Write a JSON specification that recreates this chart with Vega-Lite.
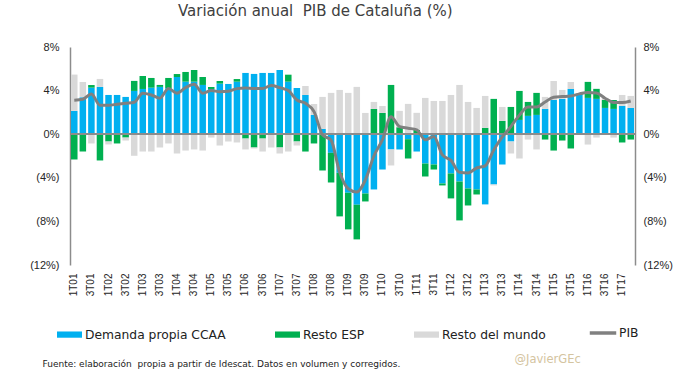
{
  "$schema": "https://vega.github.io/schema/vega-lite/v6.json",
  "width": 565,
  "height": 218,
  "autosize": "none",
  "padding": {"left": 70, "top": 47, "right": 45, "bottom": 114},
  "background": "white",
  "title": {"text": "Variación anual\u00a0 PIB de Cataluña (%)", "anchor": "start", "frame": "group", "dx": 108, "offset": 22, "font": "DejaVu Sans", "fontSize": 15, "fontWeight": "normal", "color": "#404040"},
  "config": {"view": {"stroke": null}, "font": "DejaVu Sans"},
  "data": {"values": [
    {"t": "1T01", "Demanda propia CCAA": 2.14, "Resto ESP": -2.32, "Resto del mundo": 3.33, "PIB": 3.11},
    {"t": "2T01", "Demanda propia CCAA": 3.39, "Resto ESP": -1.59, "Resto del mundo": 1.40, "PIB": 3.2},
    {"t": "3T01", "Demanda propia CCAA": 4.27, "Resto ESP": 0.24, "Resto del mundo": -0.85, "PIB": 3.69},
    {"t": "4T01", "Demanda propia CCAA": 4.34, "Resto ESP": -2.41, "Resto del mundo": 0.73, "PIB": 2.66},
    {"t": "1T02", "Demanda propia CCAA": 3.60, "Resto ESP": -0.67, "Resto del mundo": -0.27, "PIB": 2.66},
    {"t": "2T02", "Demanda propia CCAA": 3.60, "Resto ESP": -0.85, "Resto del mundo": 0, "PIB": 2.75},
    {"t": "3T02", "Demanda propia CCAA": 3.42, "Resto ESP": -0.31, "Resto del mundo": -0.27, "PIB": 2.84},
    {"t": "4T02", "Demanda propia CCAA": 3.97, "Resto ESP": 0.92, "Resto del mundo": -1.98, "PIB": 2.93},
    {"t": "1T03", "Demanda propia CCAA": 4.15, "Resto ESP": 1.19, "Resto del mundo": -1.59, "PIB": 3.76},
    {"t": "2T03", "Demanda propia CCAA": 4.27, "Resto ESP": 0.89, "Resto del mundo": -1.59, "PIB": 3.6},
    {"t": "3T03", "Demanda propia CCAA": 4.34, "Resto ESP": 0.18, "Resto del mundo": -1.22, "PIB": 3.3},
    {"t": "4T03", "Demanda propia CCAA": 4.24, "Resto ESP": 0.92, "Resto del mundo": -0.85, "PIB": 4.2},
    {"t": "1T04", "Demanda propia CCAA": 5.25, "Resto ESP": 0.27, "Resto del mundo": -1.77, "PIB": 3.76},
    {"t": "2T04", "Demanda propia CCAA": 4.82, "Resto ESP": 0.89, "Resto del mundo": -1.5, "PIB": 4.27},
    {"t": "3T04", "Demanda propia CCAA": 4.82, "Resto ESP": 1.07, "Resto del mundo": -1.40, "PIB": 4.58},
    {"t": "4T04", "Demanda propia CCAA": 4.52, "Resto ESP": 0.73, "Resto del mundo": -1.5, "PIB": 3.76},
    {"t": "1T05", "Demanda propia CCAA": 4.15, "Resto ESP": 0.18, "Resto del mundo": -0.31, "PIB": 4.0},
    {"t": "2T05", "Demanda propia CCAA": 4.64, "Resto ESP": 0.24, "Resto del mundo": -1.04, "PIB": 3.9},
    {"t": "3T05", "Demanda propia CCAA": 4.61, "Resto ESP": 0, "Resto del mundo": -0.67, "PIB": 3.94},
    {"t": "4T05", "Demanda propia CCAA": 4.82, "Resto ESP": 0.24, "Resto del mundo": -0.76, "PIB": 4.18},
    {"t": "1T06", "Demanda propia CCAA": 5.62, "Resto ESP": -0.40, "Resto del mundo": -1.0, "PIB": 4.24},
    {"t": "2T06", "Demanda propia CCAA": 5.53, "Resto ESP": -1.22, "Resto del mundo": -0.09, "PIB": 4.2},
    {"t": "3T06", "Demanda propia CCAA": 5.62, "Resto ESP": -0.40, "Resto del mundo": -1.19, "PIB": 4.2},
    {"t": "4T06", "Demanda propia CCAA": 5.62, "Resto ESP": 0, "Resto del mundo": -1.22, "PIB": 4.46},
    {"t": "1T07", "Demanda propia CCAA": 5.89, "Resto ESP": -1.22, "Resto del mundo": -0.55, "PIB": 4.27},
    {"t": "2T07", "Demanda propia CCAA": 4.82, "Resto ESP": 0.64, "Resto del mundo": -1.59, "PIB": 4.0},
    {"t": "3T07", "Demanda propia CCAA": 4.24, "Resto ESP": -0.67, "Resto del mundo": -0.37, "PIB": 3.14},
    {"t": "4T07", "Demanda propia CCAA": 3.60, "Resto ESP": -1.59, "Resto del mundo": 0.82, "PIB": 2.84},
    {"t": "1T08", "Demanda propia CCAA": 1.77, "Resto ESP": -0.85, "Resto del mundo": 1.0, "PIB": 2.08},
    {"t": "2T08", "Demanda propia CCAA": 0.49, "Resto ESP": -3.33, "Resto del mundo": 2.93, "PIB": -0.06},
    {"t": "3T08", "Demanda propia CCAA": -1.71, "Resto ESP": -2.72, "Resto del mundo": 3.79, "PIB": -0.55},
    {"t": "4T08", "Demanda propia CCAA": -3.54, "Resto ESP": -4.0, "Resto del mundo": 4.06, "PIB": -3.5},
    {"t": "1T09", "Demanda propia CCAA": -5.37, "Resto ESP": -3.36, "Resto del mundo": 3.79, "PIB": -5.0},
    {"t": "2T09", "Demanda propia CCAA": -6.47, "Resto ESP": -3.18, "Resto del mundo": 4.34, "PIB": -5.3},
    {"t": "3T09", "Demanda propia CCAA": -5.44, "Resto ESP": -0.73, "Resto del mundo": 1.95, "PIB": -4.2},
    {"t": "4T09", "Demanda propia CCAA": -5.07, "Resto ESP": 2.32, "Resto del mundo": 0.64, "PIB": -2.0},
    {"t": "1T10", "Demanda propia CCAA": -3.24, "Resto ESP": 1.95, "Resto del mundo": 0.64, "PIB": -0.5},
    {"t": "2T10", "Demanda propia CCAA": -1.40, "Resto ESP": 4.52, "Resto del mundo": -1.47, "PIB": 1.6},
    {"t": "3T10", "Demanda propia CCAA": -1.40, "Resto ESP": 0.64, "Resto del mundo": 1.5, "PIB": 0.7},
    {"t": "4T10", "Demanda propia CCAA": -0.46, "Resto ESP": -1.77, "Resto del mundo": 2.78, "PIB": 0.55},
    {"t": "1T11", "Demanda propia CCAA": -1.59, "Resto ESP": 0.4, "Resto del mundo": 1.56, "PIB": 0.4},
    {"t": "2T11", "Demanda propia CCAA": -2.69, "Resto ESP": -1.19, "Resto del mundo": 3.33, "PIB": -0.52},
    {"t": "3T11", "Demanda propia CCAA": -2.78, "Resto ESP": -0.46, "Resto del mundo": 3.05, "PIB": -0.2},
    {"t": "4T11", "Demanda propia CCAA": -4.52, "Resto ESP": -0.18, "Resto del mundo": 3.05, "PIB": -1.9},
    {"t": "1T12", "Demanda propia CCAA": -3.6, "Resto ESP": -2.29, "Resto del mundo": 3.6, "PIB": -2.4},
    {"t": "2T12", "Demanda propia CCAA": -4.34, "Resto ESP": -3.57, "Resto del mundo": 4.52, "PIB": -3.5},
    {"t": "3T12", "Demanda propia CCAA": -4.98, "Resto ESP": -1.56, "Resto del mundo": 2.96, "PIB": -3.55},
    {"t": "4T12", "Demanda propia CCAA": -5.07, "Resto ESP": -0.46, "Resto del mundo": 2.41, "PIB": -3.1},
    {"t": "1T13", "Demanda propia CCAA": -6.44, "Resto ESP": 0.58, "Resto del mundo": 2.93, "PIB": -2.9},
    {"t": "2T13", "Demanda propia CCAA": -4.61, "Resto ESP": 3.24, "Resto del mundo": -0.09, "PIB": -1.45},
    {"t": "3T13", "Demanda propia CCAA": -2.78, "Resto ESP": 1.22, "Resto del mundo": 1.28, "PIB": -0.25},
    {"t": "4T13", "Demanda propia CCAA": -0.67, "Resto ESP": 2.5, "Resto del mundo": -1.1, "PIB": 0.7},
    {"t": "1T14", "Demanda propia CCAA": 1.31, "Resto ESP": 2.66, "Resto del mundo": -2.23, "PIB": 1.75},
    {"t": "2T14", "Demanda propia CCAA": 1.68, "Resto ESP": 1.28, "Resto del mundo": -0.49, "PIB": 2.5},
    {"t": "3T14", "Demanda propia CCAA": 1.77, "Resto ESP": 2.02, "Resto del mundo": -1.40, "PIB": 2.5},
    {"t": "4T14", "Demanda propia CCAA": 2.32, "Resto ESP": -0.49, "Resto del mundo": 1.1, "PIB": 2.95},
    {"t": "1T15", "Demanda propia CCAA": 3.14, "Resto ESP": -1.5, "Resto del mundo": 1.74, "PIB": 3.4},
    {"t": "2T15", "Demanda propia CCAA": 3.24, "Resto ESP": -0.58, "Resto del mundo": 0.82, "PIB": 3.45},
    {"t": "3T15", "Demanda propia CCAA": 4.15, "Resto ESP": -1.31, "Resto del mundo": 0.64, "PIB": 3.5},
    {"t": "4T15", "Demanda propia CCAA": 3.6, "Resto ESP": 0.1, "Resto del mundo": 0, "PIB": 3.7},
    {"t": "1T16", "Demanda propia CCAA": 3.33, "Resto ESP": 1.47, "Resto del mundo": -0.95, "PIB": 3.82},
    {"t": "2T16", "Demanda propia CCAA": 3.24, "Resto ESP": 0.92, "Resto del mundo": -0.31, "PIB": 3.78},
    {"t": "3T16", "Demanda propia CCAA": 2.41, "Resto ESP": 0.73, "Resto del mundo": 0.2, "PIB": 3.3},
    {"t": "4T16", "Demanda propia CCAA": 2.32, "Resto ESP": 0.82, "Resto del mundo": -0.31, "PIB": 2.9},
    {"t": "1T17", "Demanda propia CCAA": 2.6, "Resto ESP": -0.76, "Resto del mundo": 1.0, "PIB": 2.9},
    {"t": "2T17", "Demanda propia CCAA": 2.41, "Resto ESP": -0.49, "Resto del mundo": 1.1, "PIB": 3.05}
  ]},
  "resolve": {"scale": {"y": "independent"}, "axis": {"y": "independent"}},
  "layer": [
    {
      "transform": [
        {"fold": ["Demanda propia CCAA", "Resto ESP", "Resto del mundo"], "as": ["serie", "valor"]},
        {"calculate": "indexof(['Demanda propia CCAA','Resto ESP','Resto del mundo'], datum.serie)", "as": "orden"}
      ],
      "mark": {"type": "bar"},
      "encoding": {
        "x": {"field": "t", "type": "ordinal", "sort": null,
          "scale": {"paddingInner": 0.24, "paddingOuter": 0.12},
          "axis": {"orient": "bottom",
            "values": ["1T01","3T01","1T02","3T02","1T03","3T03","1T04","3T04","1T05","3T05","1T06","3T06","1T07","3T07","1T08","3T08","1T09","3T09","1T10","3T10","1T11","3T11","1T12","3T12","1T13","3T13","1T14","3T14","1T15","3T15","1T16","3T16","1T17"],
            "labelAngle": -90, "labelFont": "Liberation Sans", "labelFontSize": 10, "labelColor": "#262626", "labelPadding": 8,
            "domain": false, "ticks": false, "grid": false,
            "title": "Fuente: elaboración\u00a0 propia a partir de Idescat. Datos en volumen y corregidos.",
            "titleX": -28, "titleY": 98, "titleAlign": "left", "titleAnchor": "start", "titleBaseline": "middle",
            "titleFont": "DejaVu Sans", "titleFontSize": 9, "titleFontWeight": "normal", "titleColor": "#222222"}},
        "y": {"field": "valor", "type": "quantitative", "stack": "zero",
          "scale": {"domain": [-12, 8], "nice": false, "zero": false},
          "axis": {"orient": "left", "values": [-12, -8, -4, 0, 4, 8],
            "labelExpr": "datum.value < 0 ? '(' + (-datum.value) + '%)' : datum.value + '%'",
            "grid": false, "ticks": false, "domainColor": "#8C8C8C", "domainWidth": 1.5,
            "labelFont": "Liberation Sans", "labelFontSize": 11, "labelColor": "#262626", "labelPadding": 11, "title": null}},
        "color": {"field": "serie", "type": "nominal",
          "scale": {"domain": ["Demanda propia CCAA", "Resto ESP", "Resto del mundo"], "range": ["#00B0F0", "#00B050", "#D9D9D9"]},
          "legend": {"title": null, "orient": "none", "legendX": -13, "legendY": 275, "direction": "horizontal",
            "columnPadding": 49, "symbolType": "M-1,-0.25H1V0.25H-1Z", "symbolSize": 625, "symbolStrokeWidth": 0,
            "labelFont": "DejaVu Sans", "labelFontSize": 12.3, "labelColor": "#222222", "labelOffset": 3, "labelLimit": 300}},
        "order": {"field": "orden", "type": "quantitative"}
      }
    },
    {
      "mark": {"type": "rule", "color": "#8C8C8C", "strokeWidth": 1.5},
      "encoding": {"y": {"datum": 0, "type": "quantitative", "scale": {"domain": [-12, 8], "nice": false}, "axis": null}}
    },
    {
      "mark": {"type": "line", "strokeWidth": 3, "interpolate": "monotone"},
      "encoding": {
        "x": {"field": "t", "type": "ordinal", "sort": null},
        "y": {"field": "PIB", "type": "quantitative",
          "scale": {"domain": [-12, 8], "nice": false, "zero": false},
          "axis": {"orient": "right", "values": [-12, -8, -4, 0, 4, 8],
            "labelExpr": "datum.value < 0 ? '(' + (-datum.value) + '%)' : datum.value + '%'",
            "grid": false, "ticks": false, "domainColor": "#8C8C8C", "domainWidth": 1.5,
            "labelFont": "Liberation Sans", "labelFontSize": 11, "labelColor": "#262626", "labelPadding": 8,
            "title": "@JavierGEc", "titleAngle": 0, "titleX": -121, "titleY": 312, "titleAlign": "left", "titleBaseline": "middle",
            "titleFont": "DejaVu Sans", "titleFontSize": 11.5, "titleFontWeight": "normal", "titleColor": "#D4C4A0"}},
        "stroke": {"datum": "PIB", "type": "nominal", "scale": {"range": ["#808080"]},
          "legend": {"title": null, "orient": "none", "legendX": 518, "legendY": 271,
            "symbolType": "stroke", "symbolSize": 700, "symbolStrokeWidth": 3.5,
            "labelFont": "DejaVu Sans", "labelFontSize": 12.3, "labelColor": "#222222", "labelOffset": 1}}
      }
    }
  ]
}
